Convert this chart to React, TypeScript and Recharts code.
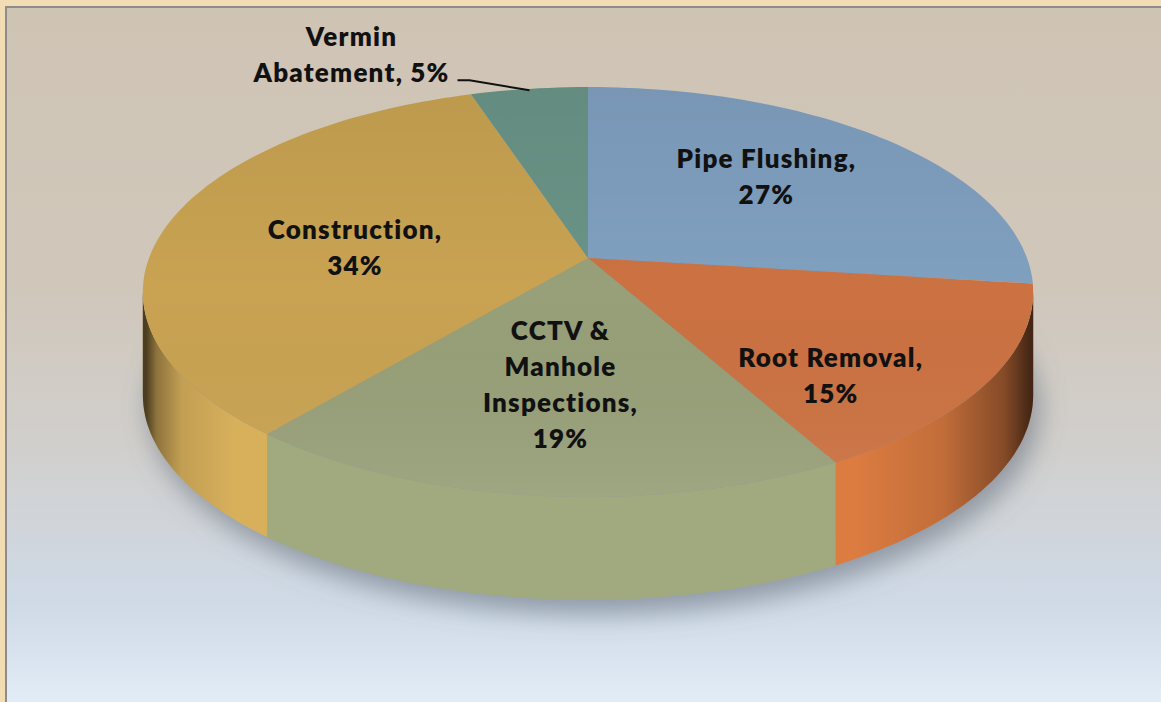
import { Pie, PieChart } from "recharts";

// slices, clockwise from 12 o'clock
const categories = [
  "Pipe Flushing",
  "Root Removal",
  "CCTV & Manhole Inspections",
  "Construction",
  "Vermin Abatement",
];
const shares = [27, 15, 19, 34, 5];
// how Excel wrapped each label
const labelLines = [
  ["Pipe Flushing,"],
  ["Root Removal,"],
  ["CCTV &", "Manhole", "Inspections,"],
  ["Construction,"],
  ["Vermin", "Abatement,"],
];

const TOP = ["#80a0c0", "#cc7242", "#98a079", "#c9a352", "#6a9487"];
const WALL = ["#87a7c7", "#dc7c41", "#a1aa7f", "#d8b05c", "#6f998c"];
// Excel's hand-placed label offsets (px) from the computed spot
const LABEL_SHIFT = [
  [-7, -8],
  [12, 46],
  [0, -6],
  [21, 11],
  [0, 0],
];

const W = 1161;
const H = 702;
const CX = 588;
const CY = 258;
const R = 439;
const K = 0.166; // perspective
const TILT = 0.454;
const DEPTH = 103;
const VIS = (Math.asin(K) * 180) / Math.PI;
const FONT = "Lato, 'Open Sans', sans-serif";
const FS = 26;
const LS = 1.2;
const LH = 36;

const data = categories.map((name, i) => ({ name, value: shares[i] }));

function project(cx: number, cy: number, r: number, deg: number, f = 1) {
  const a = (deg * Math.PI) / 180;
  const u = f * Math.cos(a);
  const v = f * Math.sin(a);
  const d = 1 + K * v;
  return [cx + (r * u) / d, cy - (r * TILT * v) / d];
}

function arc(cx: number, cy: number, r: number, from: number, to: number, f = 1) {
  const n = Math.max(2, Math.ceil(Math.abs(to - from) / 1.5));
  const pts: number[][] = [];
  for (let i = 0; i <= n; i++) pts.push(project(cx, cy, r, from + ((to - from) * i) / n, f));
  return pts;
}

const toPath = (pts: number[][]) => pts.map((p, i) => `${i ? "L" : "M"}${p[0].toFixed(1)},${p[1].toFixed(1)}`).join(" ");

function idxOf(props: any) {
  const n = props.name ?? props.payload?.name;
  return Math.max(0, categories.indexOf(n));
}

function SliceShape(props: any) {
  const { cx, cy, outerRadius, startAngle, endAngle } = props;
  const i = idxOf(props);
  const lo = Math.min(startAngle, endAngle);
  const hi = Math.max(startAngle, endAngle);

  const walls: JSX.Element[] = [];
  for (const s of [-360, 0, 360]) {
    const a = Math.max(lo, -180 + VIS + s);
    const b = Math.min(hi, -VIS + s);
    if (b <= a) continue;
    const top = arc(cx, cy, outerRadius, a, b);
    const bottom = top.map((p) => [p[0], p[1] + DEPTH]).reverse();
    const d = toPath([...top, ...bottom]) + " Z";
    const hl = toPath(arc(cx, cy, outerRadius, a, b, 0.975));
    walls.push(
      <g key={s}>
        <path d={d} fill={WALL[i]} />
        <path d={d} fill="url(#wallShade)" />
        <path d={hl} fill="none" stroke="#fff" strokeOpacity={0.4} strokeWidth={1.6} />
      </g>
    );
  }

  const rim = arc(cx, cy, outerRadius, lo, hi);
  const face = `M${cx},${cy} ` + toPath(rim).replace(/^M/, "L") + " Z";

  return (
    <g>
      {walls}
      <path d={face} fill={TOP[i]} />
      <path d={face} fill="url(#topShade)" />
    </g>
  );
}

let ctx: CanvasRenderingContext2D | null = null;
function textWidth(s: string) {
  if (!ctx) ctx = document.createElement("canvas").getContext("2d");
  if (!ctx) return s.length * 14;
  ctx.font = `800 ${FS}px ${FONT}`;
  return ctx.measureText(s).width + s.length * LS;
}

function SliceLabel(props: any) {
  const { cx, cy, outerRadius, midAngle, value } = props;
  const i = idxOf(props);
  const lines = labelLines[i];
  const textStyle = {
    fontFamily: FONT,
    fontWeight: 800,
    fontSize: FS,
    letterSpacing: LS,
    fill: "#111",
  };

  if (value < 8) {
    // small slice: outside label with a leader line
    const [px, py] = project(cx, cy, outerRadius, midAngle, 0.99);
    const ex = px - 60;
    const ey = py - 10;
    const all = [...lines.slice(0, -1), `${lines[lines.length - 1]} ${value}%`];
    const right = ex - 20;
    const mid = right - textWidth(all[all.length - 1]) / 2;
    const y0 = ey - 8 - (all.length - 1) * LH;
    return (
      <g>
        <polyline points={`${px},${py} ${ex},${ey} ${ex - 12},${ey}`} fill="none" stroke="#111" strokeWidth={2} />
        <text textAnchor="middle" dominantBaseline="central" style={textStyle}>
          {all.map((l, k) => (
            <tspan key={k} x={mid} y={y0 + k * LH}>
              {l}
            </tspan>
          ))}
        </text>
      </g>
    );
  }

  const [px, py] = project(cx, cy, outerRadius, midAngle, 0.6);
  const x = px + LABEL_SHIFT[i][0];
  const y = py + LABEL_SHIFT[i][1];
  const all = [...lines, `${value}%`];
  const y0 = y - ((all.length - 1) * LH) / 2;
  return (
    <text textAnchor="middle" dominantBaseline="central" style={textStyle}>
      {all.map((l, k) => (
        <tspan key={k} x={x} y={y0 + k * LH}>
          {l}
        </tspan>
      ))}
    </text>
  );
}

function shadowPath() {
  const pts = arc(CX + 6, CY + DEPTH + 14, R, 0, 360);
  return toPath(pts) + " Z";
}

export default function App() {
  return (
    <div style={{ position: "fixed", left: 0, top: 0, width: W, height: H, background: "#f2dcb4", overflow: "hidden" }}>
      <div
        style={{
          position: "absolute",
          left: 5,
          top: 6,
          width: W,
          height: H,
          borderLeft: "2px solid #8c8c8c",
          borderTop: "2px solid #8c8c8c",
          background:
            "linear-gradient(to bottom, #cfc4b4 0%, #d0c7bb 40%, #d1cfcc 62%, #cfdae7 85%, #e4edf7 100%)",
        }}
      />
      <svg width={W} height={H} style={{ position: "absolute", left: 0, top: 0 }}>
        <defs>
          <linearGradient id="topShade" gradientUnits="userSpaceOnUse" x1="0" y1="85" x2="0" y2="500">
            <stop offset="0" stopColor="#000" stopOpacity={0.06} />
            <stop offset="0.5" stopColor="#000" stopOpacity={0} />
            <stop offset="1" stopColor="#fff" stopOpacity={0.07} />
          </linearGradient>
          <linearGradient id="wallShade" gradientUnits="userSpaceOnUse" x1="146" y1="0" x2="1031" y2="0">
            <stop offset="0" stopColor="#000" stopOpacity={0.65} />
            <stop offset="0.012" stopColor="#000" stopOpacity={0.35} />
            <stop offset="0.04" stopColor="#000" stopOpacity={0.1} />
            <stop offset="0.1" stopColor="#000" stopOpacity={0} />
            <stop offset="0.8" stopColor="#000" stopOpacity={0} />
            <stop offset="0.9" stopColor="#000" stopOpacity={0.12} />
            <stop offset="0.97" stopColor="#000" stopOpacity={0.4} />
            <stop offset="1" stopColor="#000" stopOpacity={0.7} />
          </linearGradient>
          <filter id="blur" x="-20%" y="-20%" width="140%" height="140%">
            <feGaussianBlur stdDeviation="13" />
          </filter>
        </defs>
        <path d={shadowPath()} fill="#66717e" fillOpacity={0.6} filter="url(#blur)" />
      </svg>
      <div style={{ position: "absolute", left: 0, top: 0 }}>
        <PieChart width={W} height={H} margin={{ top: 0, right: 0, bottom: 0, left: 0 }}>
          <Pie
            data={data}
            dataKey="value"
            nameKey="name"
            cx={CX}
            cy={CY}
            outerRadius={R}
            startAngle={90}
            endAngle={-270}
            stroke="none"
            isAnimationActive={false}
            activeShape={SliceShape}
            inactiveShape={SliceShape}
            shape={SliceShape}
            label={SliceLabel}
            labelLine={false}
          />
        </PieChart>
      </div>
    </div>
  );
}
